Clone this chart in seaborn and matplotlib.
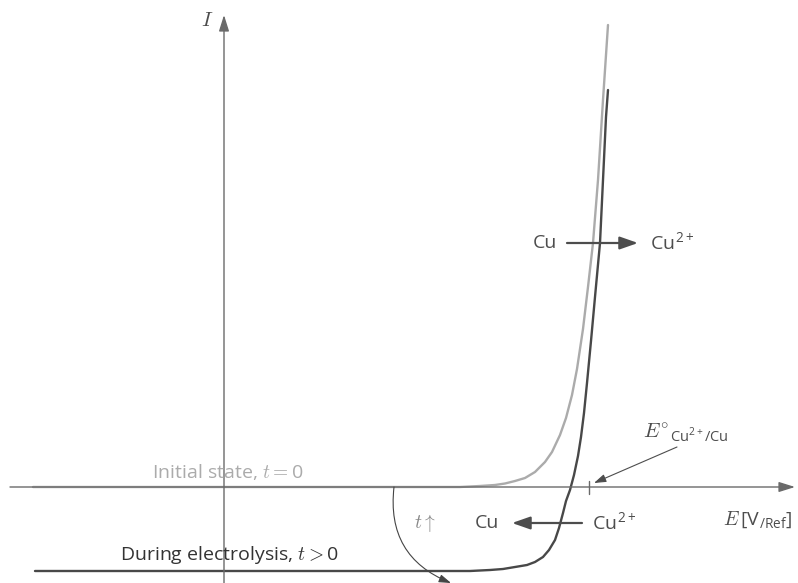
import numpy as np
import pandas as pd
import matplotlib.pyplot as plt
import seaborn as sns

# Plot style
sns.set_theme(style="white")
plt.rcParams['font.family'] = ['Open Sans', 'DejaVu Sans']
plt.rcParams['mathtext.fontset'] = 'cm'

# Curves (E relative to the I axis, I relative to the E axis)
initial_E = [-191, 236, 256, 271, 281, 291, 301, 311, 321, 328, 336, 342, 348, 353, 359, 364, 369, 374, 379, 384]
initial_I = [0, 0, 1, 2, 3.5, 6, 9, 15, 25, 35, 52, 69, 92, 118, 158, 200, 244, 307, 387, 462]

during_E = [-189, 146, 216, 246, 266, 279, 291, 303, 311, 319, 325, 331, 335, 339, 342, 346,
            350, 354, 357, 360, 363, 367, 371, 376, 379, 382, 384]
during_I = [-84, -84, -84, -84, -83, -82, -80, -78, -75, -70, -63, -53, -41, -26, -14, -3,
            12, 31, 50, 74, 104, 146, 190, 244, 307, 370, 397]

# Standard potential marker
E0 = 365

axis_col = "#6a6a6a"
text_col = "#4d4d4d"

fig = plt.figure(figsize=(7.98, 5.83), dpi=100)
ax = fig.add_axes([0, 0, 1, 1])
ax.set_xlim(-224, 574)
ax.set_ylim(-96, 487)
ax.axis("off")

# Axes with arrow heads
ax.annotate("", xy=(571, 0), xytext=(-214, 0),
            arrowprops=dict(arrowstyle="-|>,head_length=0.7,head_width=0.22",
                            color=axis_col, lw=1.0, shrinkA=0, shrinkB=0, mutation_scale=14))
ax.annotate("", xy=(0, 472), xytext=(0, -96),
            arrowprops=dict(arrowstyle="-|>,head_length=0.7,head_width=0.22",
                            color=axis_col, lw=1.0, shrinkA=0, shrinkB=0, mutation_scale=14))

# Curves
sns.lineplot(x=initial_E, y=initial_I, sort=False, estimator=None, color="#ababab", lw=1.7, ax=ax)
sns.lineplot(x=during_E, y=during_I, sort=False, estimator=None, color="#484848", lw=1.7, ax=ax)

# Tick at E°
ax.plot([E0, E0], [6, -7], color=axis_col, lw=1.0)

# Axis labels
ax.text(-17, 467, "$I$", fontsize=15, color=text_col, ha="center", va="center")
ax.text(499, -33, "$E\\,$[V$_{\\mathregular{/Ref}}$]", fontsize=14, color=text_col,
        ha="left", va="center")

# E° annotation
ax.text(419, 54, "$E^{\\circ}{}_{\\mathregular{Cu^{2+}/Cu}}$", fontsize=15, color=text_col,
        ha="left", va="center")
ax.annotate("", xy=(E0 + 5, 4), xytext=(453, 40),
            arrowprops=dict(arrowstyle="-|>,head_length=0.6,head_width=0.2",
                            color=text_col, lw=0.8, shrinkA=0, shrinkB=0, mutation_scale=12))

# Reactions
ax.text(321, 244, "Cu", fontsize=14, color=text_col, ha="center", va="center")
ax.text(426, 244, "Cu$^{\\mathregular{2+}}$", fontsize=14, color=text_col, ha="left", va="center")
ax.annotate("", xy=(414, 244), xytext=(343, 244),
            arrowprops=dict(arrowstyle="-|>,head_length=1.0,head_width=0.35",
                            color=text_col, lw=1.6, shrinkA=0, shrinkB=0, mutation_scale=11))

ax.text(263, -36, "Cu", fontsize=14, color=text_col, ha="center", va="center")
ax.text(368, -36, "Cu$^{\\mathregular{2+}}$", fontsize=14, color=text_col, ha="left", va="center")
ax.annotate("", xy=(288, -36), xytext=(358, -36),
            arrowprops=dict(arrowstyle="-|>,head_length=1.0,head_width=0.35",
                            color=text_col, lw=1.6, shrinkA=0, shrinkB=0, mutation_scale=11))

# Time arrow
ax.annotate("", xy=(227, -96), xytext=(170, 0),
            arrowprops=dict(arrowstyle="-|>,head_length=0.6,head_width=0.2",
                            connectionstyle="arc3,rad=0.38",
                            color="#444444", lw=0.8, shrinkA=0, shrinkB=0, mutation_scale=12))
ax.text(201, -36, "$t\\uparrow$", fontsize=14, color="#888888", ha="center", va="center")

# Curve labels
ax.text(-72, 15, "Initial state, $t = $0", fontsize=14, color="#ababab", ha="left", va="center")
ax.text(-104, -68, "During electrolysis, $t > $0", fontsize=14, color="#333333", ha="left", va="center")

plt.savefig("out.png", dpi=100)
